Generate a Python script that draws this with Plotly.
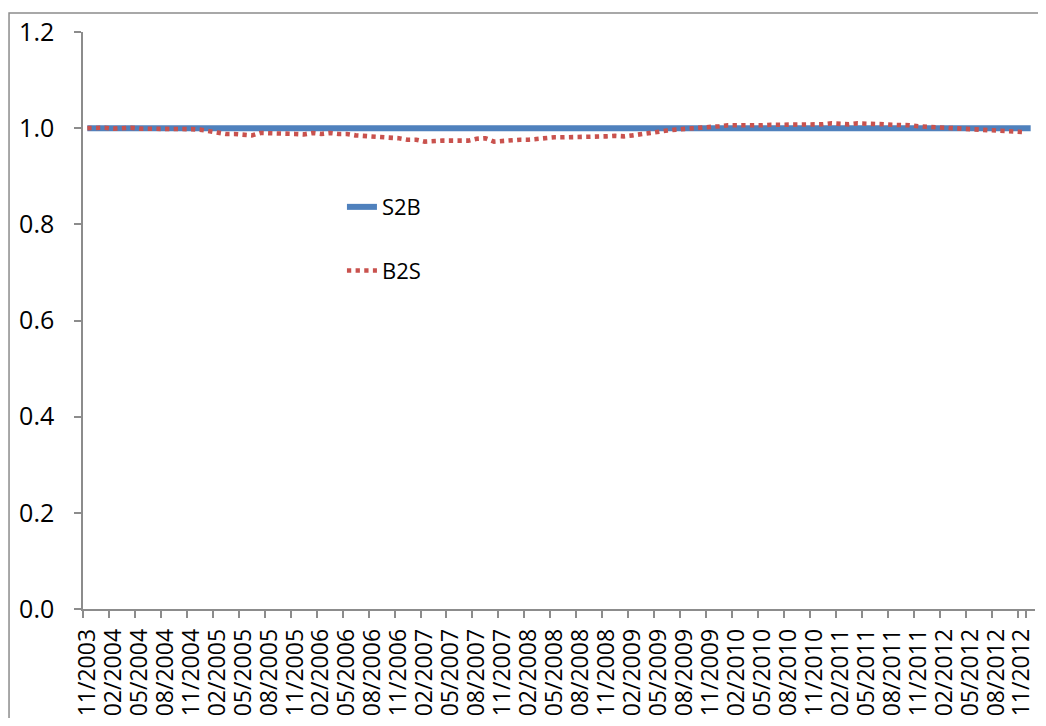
import plotly.graph_objects as go

# Monthly categories 11/2003 .. 12/2012
months = []
y0, m0 = 2003, 11
for i in range(110):
    m = (m0 - 1 + i) % 12 + 1
    yy = y0 + (m0 - 1 + i) // 12
    months.append(f"{m:02d}/{yy}")

tick_labels = months[0:109:3]

s2b = [
    1.0, 1.0, 1.0, 1.0, 1.0, 1.0, 1.0, 1.0, 1.0, 1.0,
    1.0, 1.0, 1.0, 1.0, 1.0, 1.0, 1.0, 1.0, 1.0, 1.0,
    1.0, 1.0, 1.0, 1.0, 1.0, 1.0, 1.0, 1.0, 1.0, 1.0,
    1.0, 1.0, 1.0, 1.0, 1.0, 1.0, 1.0, 1.0, 1.0, 1.0,
    1.0, 1.0, 1.0, 1.0, 1.0, 1.0, 1.0, 1.0, 1.0, 1.0,
    1.0, 1.0, 1.0, 1.0, 1.0, 1.0, 1.0, 1.0, 1.0, 1.0,
    1.0, 1.0, 1.0, 1.0, 1.0, 1.0, 1.0, 1.0, 1.0, 1.0,
    1.0, 1.0, 1.0, 1.0, 1.0, 1.0, 1.0, 1.0, 1.0, 1.0,
    1.0, 1.0, 1.0, 1.0, 1.0, 1.0, 1.0, 1.0, 1.0, 1.0,
    1.0, 1.0, 1.0, 1.0, 1.0, 1.0, 1.0, 1.0, 1.0, 1.0,
    1.0, 1.0, 1.0, 1.0, 1.0, 1.0, 1.0, 1.0, 1.0, 1.0,
]

b2s = [
    1.000, 1.001, 1.001, 0.999, 1.000, 1.001, 0.999, 0.999, 0.999, 0.999,
    1.000, 0.999, 0.998, 0.997, 0.994, 0.991, 0.988, 0.988, 0.987, 0.985,
    0.990, 0.990, 0.990, 0.988, 0.988, 0.987, 0.990, 0.988, 0.990, 0.988,
    0.988, 0.985, 0.984, 0.983, 0.980, 0.979, 0.979, 0.976, 0.976, 0.972,
    0.974, 0.974, 0.974, 0.974, 0.974, 0.978, 0.979, 0.972, 0.974, 0.976,
    0.976, 0.976, 0.978, 0.980, 0.981, 0.981, 0.981, 0.981, 0.981, 0.983,
    0.983, 0.984, 0.983, 0.985, 0.988, 0.990, 0.994, 0.995, 0.997, 0.998,
    0.999, 1.002, 1.003, 1.004, 1.006, 1.006, 1.004, 1.006, 1.006, 1.007,
    1.007, 1.007, 1.007, 1.007, 1.008, 1.008, 1.010, 1.008, 1.008, 1.010,
    1.010, 1.010, 1.008, 1.007, 1.007, 1.006, 1.004, 1.003, 1.001, 0.999,
    0.999, 0.998, 0.998, 0.997, 0.995, 0.995, 0.994, 0.992, 0.992,
]

FONT = "Open Sans"
AXIS_COLOR = "#8c8c8c"

fig = go.Figure()
fig.add_trace(go.Scatter(
    x=months, y=s2b, name="S2B", mode="lines",
    line=dict(color="#4F81BD", width=6),
    legendgroup="a",
))
fig.add_trace(go.Scatter(
    x=months[:len(b2s)], y=b2s, name="B2S", mode="lines",
    line=dict(color="#C9524E", width=4.6, dash="4.3px,4.35px"),
    legendgroup="b",
))

fig.update_layout(
    width=1030, height=710,
    margin=dict(l=75, r=3, t=24, b=109),
    paper_bgcolor="white", plot_bgcolor="white",
    font=dict(family=FONT, size=22, color="black"),
    showlegend=True,
    legend=dict(
        x=0.272, y=0.733, xanchor="left", yanchor="top",
        bgcolor="rgba(0,0,0,0)", font=dict(family=FONT, size=22),
        tracegroupgap=32, traceorder="grouped",
    ),
    xaxis=dict(
        type="category",
        range=[-0.5, 109.5],
        tickmode="array", tickvals=tick_labels, ticktext=tick_labels,
        tickangle=-90, tickson="boundaries",
        ticks="outside", ticklen=7, tickcolor=AXIS_COLOR, tickwidth=1.5,
        showline=True, linecolor=AXIS_COLOR, linewidth=1.5,
        showgrid=False, zeroline=False,
        ticklabelstandoff=9,
        tickfont=dict(family=FONT, size=23),
    ),
    yaxis=dict(
        range=[0, 1.2], tickmode="linear", tick0=0, dtick=0.2,
        tickformat=".1f",
        ticks="outside", ticklen=7, tickcolor=AXIS_COLOR, tickwidth=1.5,
        showline=True, linecolor=AXIS_COLOR, linewidth=1.5,
        showgrid=False, zeroline=False,
        ticklabelstandoff=15,
        tickfont=dict(family=FONT, size=25),
    ),
    shapes=[dict(
        type="rect", xref="paper", yref="paper",
        x0=-0.0777, x1=1.05, y0=-0.3, y1=1.0329,
        line=dict(color=AXIS_COLOR, width=1.5), layer="below",
    )],
)

fig.write_html("out.html")
